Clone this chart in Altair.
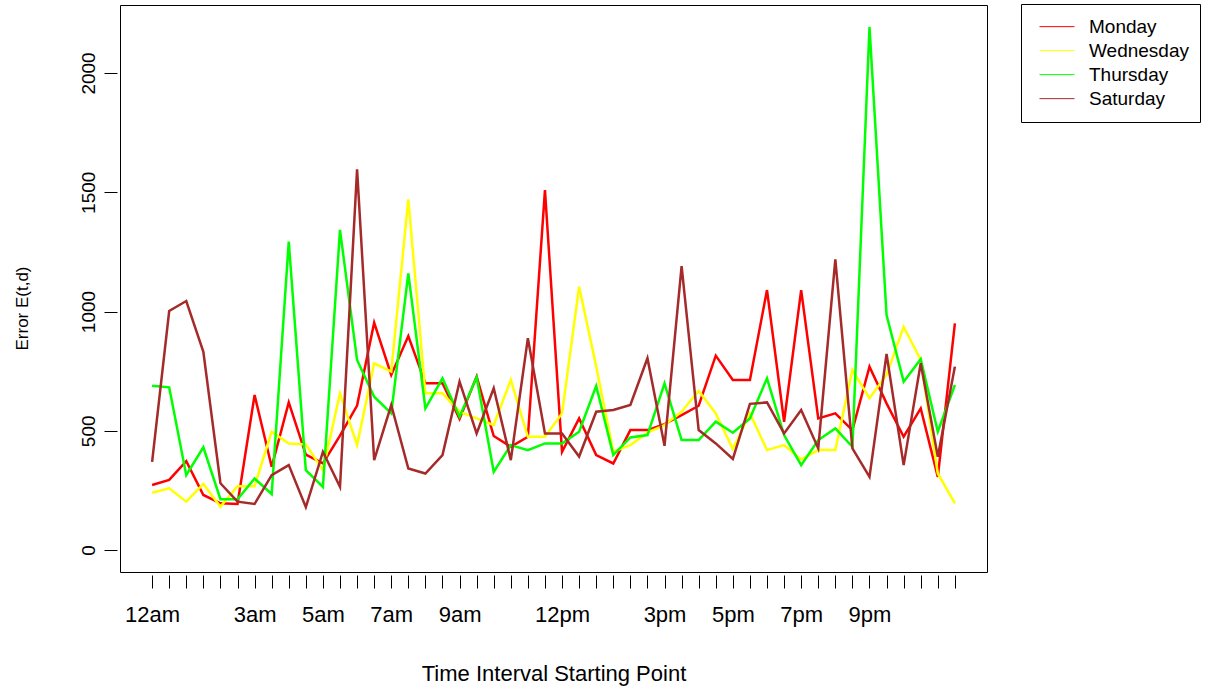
import altair as alt
import pandas as pd

days = ["Monday", "Wednesday", "Thursday", "Saturday"]
colors = ["#FF0000", "#FFFF00", "#00FF00", "#A52A2A"]

monday = [273, 294, 373, 231, 196, 193, 650, 349, 619, 400, 363, 480, 606, 953, 734, 897,
          699, 699, 550, 727, 478, 433, 475, 1509, 412, 552, 398, 363, 503, 503, 528, 566,
          605, 815, 713, 713, 1090, 538, 1090, 552, 573, 503, 769, 615, 475, 594, 307, 950]
wednesday = [240, 259, 203, 277, 182, 268, 268, 496, 447, 443, 335, 657, 440, 783, 748, 1470,
             657, 657, 580, 552, 524, 713, 475, 475, 573, 1104, 770, 412, 440, 492, 524, 580,
             668, 573, 423, 573, 419, 440, 380, 419, 419, 755, 636, 734, 936, 797, 321, 196]
thursday = [689, 682, 314, 431, 213, 213, 300, 235, 1293, 335, 265, 1342, 797, 643, 573, 1160,
            594, 720, 559, 724, 328, 440, 419, 447, 447, 496, 688, 398, 472, 482, 699, 461,
            461, 538, 492, 552, 720, 482, 356, 461, 510, 433, 2193, 985, 706, 800, 496, 692]
saturday = [370, 1002, 1044, 831, 280, 203, 193, 314, 356, 180, 412, 265, 1596, 377, 608, 342,
            321, 398, 706, 489, 678, 377, 888, 489, 489, 392, 580, 587, 608, 804, 437, 1190,
            503, 447, 382, 613, 619, 489, 587, 426, 1219, 426, 307, 822, 356, 783, 391, 769]

tick_positions = list(range(48))
label_positions = [0, 6, 10, 14, 18, 24, 30, 34, 38, 42]
label_texts = ["12am", "3am", "5am", "7am", "9am", "12pm", "3pm", "5pm", "7pm", "9pm"]
y_ticks = [0, 500, 1000, 1500, 2000]

rows = []
for d, vals in zip(days, [monday, wednesday, thursday, saturday]):
    for i, v in enumerate(vals):
        rows.append({"day": d, "t": i, "err": v})
df = pd.DataFrame(rows)

label_expr = ""
for p, t in zip(label_positions, label_texts):
    label_expr += f"datum.value == {p} ? '{t}' : "
label_expr += "''"

FONT = "Liberation Sans"

x_axis = alt.Axis(values=tick_positions, labelExpr=label_expr, tickSize=13, offset=3,
                  domain=False, grid=False, labelFontSize=22, labelFont=FONT,
                  labelColor="black", tickColor="black", labelPadding=16,
                  labelOverlap=False, labelFlush=False, title="Time Interval Starting Point",
                  titleFontSize=22, titleFont=FONT, titleFontWeight="normal",
                  titleColor="black", titleY=98, titleBaseline="middle")
y_axis = alt.Axis(values=y_ticks, format="d", tickSize=13, offset=3, domain=False, grid=False,
                  labelAngle=270, labelAlign="center", labelBaseline="bottom",
                  labelFontSize=19, labelFont=FONT, labelColor="black", tickColor="black",
                  labelPadding=6, title="Error E(t,d)", titleFontSize=17, titleFont=FONT,
                  titleFontWeight="normal", titleColor="black", titleX=-95, titleY=303,
                  titleBaseline="middle", titleAlign="center")

color = alt.Color("day:N", scale=alt.Scale(domain=days, range=colors),
                  legend=alt.Legend(title=None, orient="none", legendX=901, legendY=-1,
                                    symbolType="stroke", symbolSize=1225, symbolOffset=7,
                                    symbolStrokeWidth=1, labelFontSize=19, labelFont=FONT,
                                    labelColor="black", labelOffset=14, padding=11,
                                    clipHeight=23.3, rowPadding=0,
                                    strokeColor="black", fillColor="white"))

base = alt.Chart(df).mark_line(strokeWidth=2.5, clip=True).encode(
    x=alt.X("t:Q", scale=alt.Scale(domain=[-1.88, 48.88], nice=False, zero=False), axis=x_axis),
    y=alt.Y("err:Q", scale=alt.Scale(domain=[-92, 2285], nice=False, zero=False), axis=y_axis),
    color=color,
)

layers = [base.transform_filter(alt.datum.day == d) for d in days]

chart = alt.layer(*layers).properties(
    width=867, height=567,
    autosize=alt.AutoSizeParams(type="none"),
    padding={"left": 120, "top": 5, "right": 218, "bottom": 117},
    background="white",
).configure_view(stroke="black", strokeWidth=1)

chart.save("out.html", embed_options={"renderer": "svg", "actions": False})
